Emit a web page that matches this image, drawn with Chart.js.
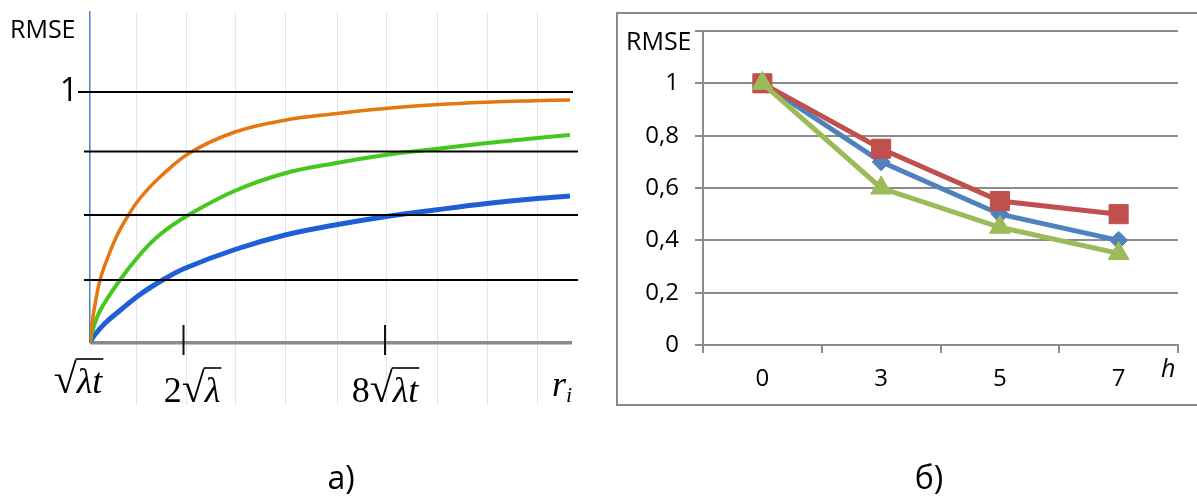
<!DOCTYPE html>
<html><head><meta charset="utf-8">
<script src="https://cdn.jsdelivr.net/npm/chart.js@4.4.1/dist/chart.umd.min.js"></script>
<style>
html,body{margin:0;padding:0;background:#fff;width:1197px;height:496px;overflow:hidden}
#ca{position:absolute;left:0;top:0}
#cb{position:absolute;left:600px;top:0}
</style></head><body>
<canvas id="ca" width="600" height="496"></canvas>
<canvas id="cb" width="597" height="496"></canvas>
<script>
// ---------- Panel a) data ----------
const orangeX = [0, 0.04, 0.1, 0.2, 0.35, 0.55, 0.77, 1.0, 1.4, 2.0, 2.9, 3.9, 4.9, 5.9, 6.9, 7.9, 8.9, 9.6];
const orangeY = [0, 0.075, 0.15, 0.248, 0.335, 0.43, 0.508, 0.575, 0.66, 0.757, 0.84, 0.887, 0.913, 0.934, 0.949, 0.959, 0.965, 0.968];
const greenX  = [0, 0.05, 0.2, 0.6, 1.0, 1.4, 1.97, 2.9, 3.9, 4.9, 5.9, 6.6, 7.9, 8.9, 9.6];
const greenY  = [0, 0.045, 0.125, 0.248, 0.35, 0.43, 0.508, 0.605, 0.675, 0.715, 0.748, 0.765, 0.795, 0.815, 0.828];
const blueX   = [0, 0.1, 0.3, 0.57, 1.0, 1.47, 1.9, 2.9, 3.9, 4.9, 5.9, 6.9, 7.9, 8.9, 9.6];
const blueY   = [0, 0.03, 0.075, 0.121, 0.19, 0.25, 0.295, 0.37, 0.428, 0.468, 0.501, 0.528, 0.553, 0.573, 0.584];
const refLevels = [0.248, 0.508, 0.762];
const unitLevel = 1;
const gridXa = [0.93, 1.92, 2.91, 3.9, 4.94, 5.93, 6.94, 7.94, 8.94];
const tickMarkX = [1.87, 5.9];
const xLabelTexts = ['√λt', '2√λ', '8√λt', 'r_i'];
const xLabelValues = [-0.24, 2.04, 5.9, 9.44];
const yTitle = 'RMSE';
const panelCaptions = ['а)', 'б)'];

// ---------- Panel б) data ----------
const hLabels = ['0', '3', '5', '7'];
const blueVals  = [1.0, 0.7, 0.5, 0.4];
const redVals   = [1.0, 0.75, 0.55, 0.5];
const greenVals = [1.0, 0.6, 0.45, 0.35];
const yTicksB = [0, 0.2, 0.4, 0.6, 0.8, 1.0, 1.2];
const xTitleB = 'h';

Chart.defaults.font.family = '"Open Sans"';
Chart.defaults.color = '#000';

const pts = (xs, ys) => xs.map((x, i) => ({x: x, y: ys[i]}));
const zeroPad = s => { s.paddingTop = 0; s.paddingBottom = 0; s.paddingLeft = 0; s.paddingRight = 0; };

function drawMathLabel(ctx, txt, cx, base, clipR) {
  const F = 36;
  const parts = [];
  if (txt.includes('_')) {
    const [a, b] = txt.split('_');
    parts.push({t: a, f: `italic ${F}px "Liberation Serif"`});
    parts.push({t: b, f: `italic ${Math.round(F * 0.6)}px "Liberation Serif"`, dy: 6});
  } else {
    const k = txt.indexOf('√');
    if (k > 0) parts.push({t: txt.slice(0, k), f: `${F}px "Liberation Serif"`});
    parts.push({t: '√', f: `${F + 6}px "Liberation Serif"`});
    parts.push({t: txt.slice(k + 1), f: `italic ${F}px "Liberation Serif"`, under: true});
  }
  const w = parts.map(p => { ctx.font = p.f; return ctx.measureText(p.t).width; });
  const total = w.reduce((a, b) => a + b, 0);
  ctx.save();
  if (clipR) { ctx.beginPath(); ctx.rect(0, 0, clipR, 496); ctx.clip(); }
  let x = cx - total / 2;
  let rs = null, re = null;
  parts.forEach((p, i) => {
    ctx.font = p.f;
    ctx.fillText(p.t, x, base + (p.dy || 0));
    if (p.under) { rs = x; re = x + w[i]; }
    x += w[i];
  });
  if (rs !== null) {
    ctx.strokeStyle = '#000'; ctx.lineWidth = 1.6;
    ctx.beginPath(); ctx.moveTo(rs - 1, base - 34); ctx.lineTo(re + 1, base - 34); ctx.stroke();
  }
  ctx.restore();
}

const annotA = {
  id: 'annotA',
  afterDraw(chart) {
    const ctx = chart.ctx, xs = chart.scales.x;
    ctx.save();
    ctx.fillStyle = '#000';
    ctx.textBaseline = 'alphabetic';
    ctx.textAlign = 'left';
    ctx.font = '25px "Open Sans"';
    ctx.fillText(yTitle, 10, 38);
    const bases = [393, 402, 402, 396];
    const clips = [105, null, null, 578];
    xLabelTexts.forEach((t, i) => drawMathLabel(ctx, t, xs.getPixelForValue(xLabelValues[i]), bases[i], clips[i]));
    ctx.font = '32px "Open Sans"';
    ctx.textAlign = 'center';
    ctx.fillText(panelCaptions[0], 341, 489);
    ctx.restore();
  }
};

const lineDs = (data, color, width, extra) => Object.assign({
  data: data, borderColor: color, backgroundColor: color, borderWidth: width,
  pointRadius: 0, fill: false, tension: 0
}, extra || {});

const dsA = [];
refLevels.forEach(v => dsA.push(lineDs([{x: -0.12, y: v}, {x: 9.76, y: v}], '#000', 2, {clip: false})));
dsA.push(lineDs([{x: -0.24, y: unitLevel}, {x: 9.66, y: unitLevel}], '#000', 2, {clip: false}));
tickMarkX.forEach(v => dsA.push(lineDs([{x: v, y: 0.068}, {x: v, y: -0.052}], '#111', 2, {clip: false})));
dsA.push(lineDs(pts(orangeX, orangeY), '#E5770E', 3.5, {tension: 0.4}));
dsA.push(lineDs(pts(greenX, greenY), '#45C81E', 4, {tension: 0.4}));
dsA.push(lineDs(pts(blueX, blueY), '#1E5FD6', 5, {tension: 0.4}));
dsA.push(lineDs([{x: 0, y: -0.003}, {x: 9.64, y: -0.003}], '#8a8a8a', 3.5, {clip: false}));

new Chart(document.getElementById('ca'), {
  type: 'line',
  data: {datasets: dsA},
  options: {
    responsive: false, animation: false, events: [],
    layout: {padding: {top: 12, right: 22, left: 0, bottom: 0}},
    plugins: {legend: {display: false}, tooltip: {enabled: false}},
    scales: {
      x: {
        type: 'linear', min: 0, max: 9.76,
        afterBuildTicks: s => { s.ticks = gridXa.map(v => ({value: v})); },
        afterFit: s => { s.height = 496 - 342; zeroPad(s); },
        grid: {color: '#e3e3f5', lineWidth: 1, drawTicks: true, tickLength: 63, tickColor: '#e3e3f5'},
        border: {display: false},
        ticks: {display: false}
      },
      y: {
        min: 0, max: 1.32,
        afterBuildTicks: s => { s.ticks = [{value: unitLevel}]; },
        afterFit: s => { s.width = 90; zeroPad(s); },
        grid: {display: false},
        border: {display: true, color: '#4f7fc0', width: 1.5},
        ticks: {font: {size: 32}, color: '#000', padding: 4, callback: v => String(v)}
      }
    }
  },
  plugins: [annotA]
});

// ---------- Panel б) ----------
const annotB = {
  id: 'annotB',
  beforeDraw(chart) {
    const ctx = chart.ctx;
    ctx.save();
    ctx.strokeStyle = '#8a8a8a'; ctx.lineWidth = 2;
    ctx.beginPath();
    ctx.moveTo(640, 13); ctx.lineTo(17, 13); ctx.lineTo(17, 405); ctx.lineTo(640, 405);
    ctx.stroke();
    ctx.restore();
  },
  afterDraw(chart) {
    const ctx = chart.ctx;
    ctx.save();
    ctx.fillStyle = '#000';
    ctx.textBaseline = 'alphabetic';
    ctx.textAlign = 'left';
    ctx.font = '25px "Open Sans"';
    ctx.fillText(yTitle, 26, 50);
    ctx.font = 'italic 25px "Open Sans"';
    ctx.fillText(xTitleB, 561, 377);
    ctx.font = '32px "Open Sans"';
    ctx.textAlign = 'center';
    ctx.fillText(panelCaptions[1], 329, 489);
    ctx.restore();
  }
};

new Chart(document.getElementById('cb'), {
  type: 'line',
  data: {
    labels: hLabels,
    datasets: [
      {data: greenVals, borderColor: '#9BBB59', backgroundColor: '#9BBB59', borderWidth: 5,
       pointStyle: 'triangle', pointRadius: 12, pointBorderWidth: 1, order: 1},
      {data: redVals, borderColor: '#C0504D', backgroundColor: '#C0504D', borderWidth: 5,
       pointStyle: 'rect', pointRadius: 13.5, pointBorderWidth: 1, order: 2},
      {data: blueVals, borderColor: '#4F81BD', backgroundColor: '#4F81BD', borderWidth: 5,
       pointStyle: 'rectRot', pointRadius: 9, pointBorderWidth: 1, order: 3}
    ]
  },
  options: {
    responsive: false, animation: false, events: [],
    layout: {padding: {top: 31, right: 19, left: 0, bottom: 0}},
    plugins: {legend: {display: false}, tooltip: {enabled: false}},
    scales: {
      x: {
        offset: true,
        afterFit: s => { s.height = 496 - 345; zeroPad(s); },
        grid: {offset: true, drawOnChartArea: false, drawTicks: true, tickLength: 8, color: '#8c8c8c', lineWidth: 2},
        border: {color: '#8c8c8c', width: 2},
        ticks: {font: {size: 24}, color: '#000', padding: 12, maxRotation: 0}
      },
      y: {
        min: 0, max: 1.2,
        afterBuildTicks: s => { s.ticks = yTicksB.map(v => ({value: v})); },
        afterFit: s => { s.width = 103; zeroPad(s); },
        grid: {color: '#8c8c8c', lineWidth: 2, tickLength: 8},
        border: {color: '#8c8c8c', width: 2},
        ticks: {font: {size: 24}, color: '#000', padding: 16,
                callback: v => Math.abs(v - 1.2) < 1e-9 ? '' : String(v).replace('.', ',')}
      }
    }
  },
  plugins: [annotB]
});
</script>
</body></html>
